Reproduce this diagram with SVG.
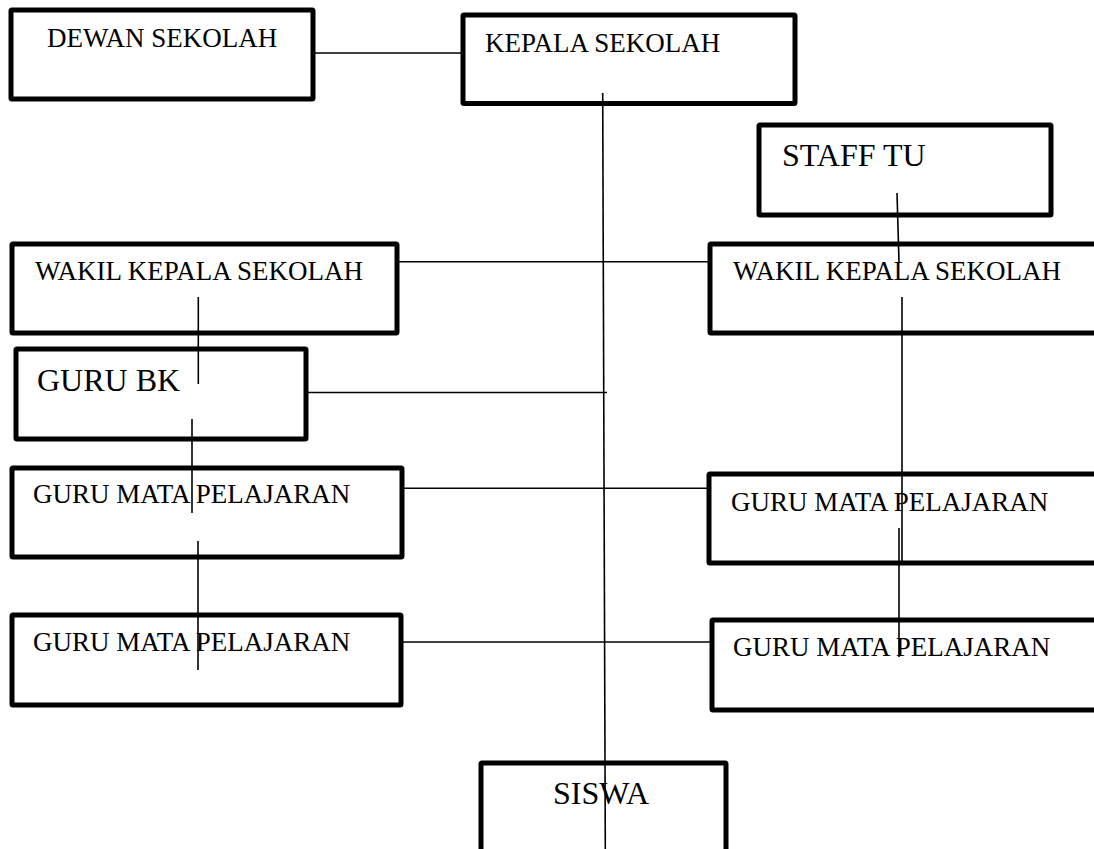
<svg xmlns="http://www.w3.org/2000/svg" width="1094" height="849" viewBox="0 0 1094 849">
<style>
.box{fill:#fff;stroke:#000;stroke-width:5;stroke-linejoin:round}
.t{font-family:"Liberation Serif","Times New Roman",serif;font-size:27px;fill:#000}
.tb{font-family:"Liberation Serif","Times New Roman",serif;font-size:32px;fill:#000}
.c line{stroke:#000;stroke-width:1.6;fill:none}
</style>
<rect width="1094" height="849" fill="#fff"/>
<g id="dewan-sekolah"><rect class="box" x="11" y="10" width="302" height="89" rx="1"/><text class="t" x="47" y="47">DEWAN SEKOLAH</text></g>
<g id="kepala-sekolah"><rect class="box" x="463" y="15" width="332" height="88.5" rx="1"/><text class="t" x="485" y="52">KEPALA SEKOLAH</text></g>
<g id="staff-tu"><rect class="box" x="759" y="125" width="292" height="90" rx="1"/><text class="tb" x="782" y="166">STAFF TU</text></g>
<g id="wakil-kiri"><rect class="box" x="12" y="244" width="385" height="89" rx="1"/><text class="t" x="35" y="280">WAKIL KEPALA SEKOLAH</text></g>
<g id="wakil-kanan"><rect class="box" x="710" y="244" width="400" height="89" rx="1"/><text class="t" x="733" y="280">WAKIL KEPALA SEKOLAH</text></g>
<g id="guru-bk"><rect class="box" x="16" y="349" width="290" height="90" rx="1"/><text class="tb" x="37" y="391">GURU BK</text></g>
<g id="gmp-kiri-1"><rect class="box" x="12" y="468" width="390" height="89" rx="1"/><text class="t" x="33" y="503">GURU MATA PELAJARAN</text></g>
<g id="gmp-kanan-1"><rect class="box" x="709" y="474" width="400" height="89" rx="1"/><text class="t" x="731" y="511">GURU MATA PELAJARAN</text></g>
<g id="gmp-kiri-2"><rect class="box" x="12" y="615" width="389" height="90" rx="1"/><text class="t" x="33" y="651">GURU MATA PELAJARAN</text></g>
<g id="gmp-kanan-2"><rect class="box" x="712" y="620" width="400" height="90" rx="1"/><text class="t" x="733" y="656">GURU MATA PELAJARAN</text></g>
<g id="siswa"><rect class="box" x="481" y="763" width="245" height="100" rx="1"/><text class="tb" x="553" y="804">SISWA</text></g>
<g id="connectors" class="c">
<line x1="313" y1="53" x2="463" y2="53"/>
<line x1="602.7" y1="93" x2="605.3" y2="849"/>
<line x1="897" y1="193" x2="899" y2="262"/>
<line x1="397" y1="261.7" x2="710" y2="261.7"/>
<line x1="306" y1="392.5" x2="607" y2="392.5"/>
<line x1="198.3" y1="297" x2="198.3" y2="384"/>
<line x1="192" y1="419" x2="192" y2="513"/>
<line x1="198" y1="541" x2="198" y2="670"/>
<line x1="402" y1="488.3" x2="709" y2="488.3"/>
<line x1="401" y1="642" x2="712" y2="642"/>
<line x1="902" y1="297" x2="902" y2="562"/>
<line x1="899" y1="528" x2="899" y2="657"/>
</g>
</svg>
